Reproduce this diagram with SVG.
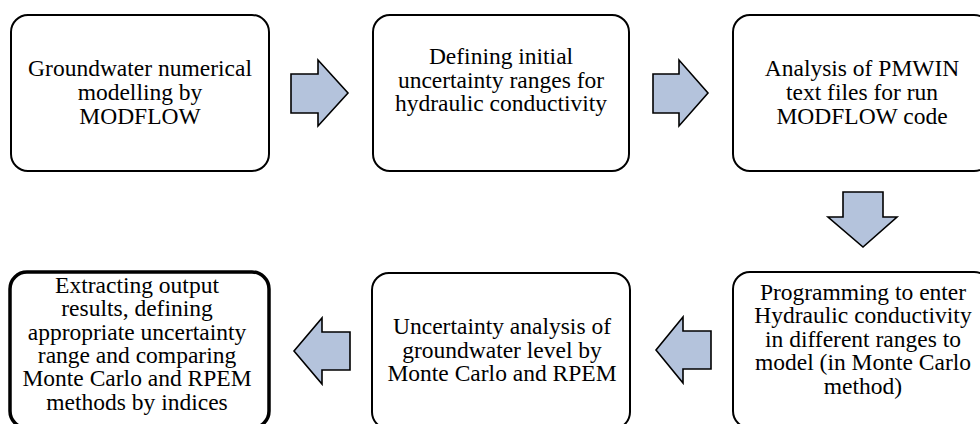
<svg xmlns="http://www.w3.org/2000/svg" width="980" height="424" viewBox="0 0 980 424">
<style>
.box{fill:#fff;stroke:#000;stroke-width:2}
.thick{stroke-width:3.5}
.arr{fill:#B4C3DC;stroke:#000;stroke-width:1.6;stroke-linejoin:miter}
text{font-family:"Liberation Serif","Times New Roman",serif;font-size:23.5px;fill:#000;text-anchor:middle}
</style>
<rect width="980" height="424" fill="#fff"/>
<g id="n1">
<rect class="box" x="11" y="15" width="258" height="156" rx="17"/>
<text x="140" y="76">Groundwater numerical</text>
<text x="140" y="100">modelling by</text>
<text x="140" y="124">MODFLOW</text>
</g>
<g id="n2">
<rect class="box" x="373" y="15" width="256" height="156" rx="17"/>
<text x="501" y="64">Defining initial</text>
<text x="501" y="87.5">uncertainty ranges for</text>
<text x="501" y="111">hydraulic conductivity</text>
</g>
<g id="n3">
<rect class="box" x="733" y="15" width="258" height="156" rx="17"/>
<text x="862" y="76">Analysis of PMWIN</text>
<text x="862" y="100">text files for run</text>
<text x="862" y="124">MODFLOW code</text>
</g>
<g id="n4">
<rect class="box" x="733" y="272" width="258" height="156" rx="17"/>
<text x="863" y="300">Programming to enter</text>
<text x="863" y="323.4">Hydraulic conductivity</text>
<text x="863" y="346.8">in different ranges to</text>
<text x="863" y="370.2">model (in Monte Carlo</text>
<text x="863" y="393.6">method)</text>
</g>
<g id="n5">
<rect class="box" x="372" y="273" width="258" height="156" rx="17"/>
<text x="502" y="334">Uncertainty analysis of</text>
<text x="502" y="357.5">groundwater level by</text>
<text x="502" y="381">Monte Carlo and RPEM</text>
</g>
<g id="n6">
<rect class="box thick" x="10" y="272" width="259" height="156" rx="17"/>
<text x="137" y="293">Extracting output</text>
<text x="137" y="316.3">results, defining</text>
<text x="137" y="339.6">appropriate uncertainty</text>
<text x="137" y="363">range and comparing</text>
<text x="137" y="386.3">Monte Carlo and RPEM</text>
<text x="137" y="409.6">methods by indices</text>
</g>
<g id="connectors">
<polygon class="arr" points="291,74 318,74 318,60 348,93 318,126 318,113 291,113"/>
<polygon class="arr" points="653,74 679,74 679,60 708,93 679,126 679,113 653,113"/>
<polygon class="arr" points="843,192 883,192 883,217 897,217 863,247 828,217 843,217"/>
<polygon class="arr" points="711,331 683,331 683,317 656,350 683,383 683,369 711,369"/>
<polygon class="arr" points="350,332 322,332 322,318 294,351 322,384 322,370 350,370"/>
</g>
</svg>
